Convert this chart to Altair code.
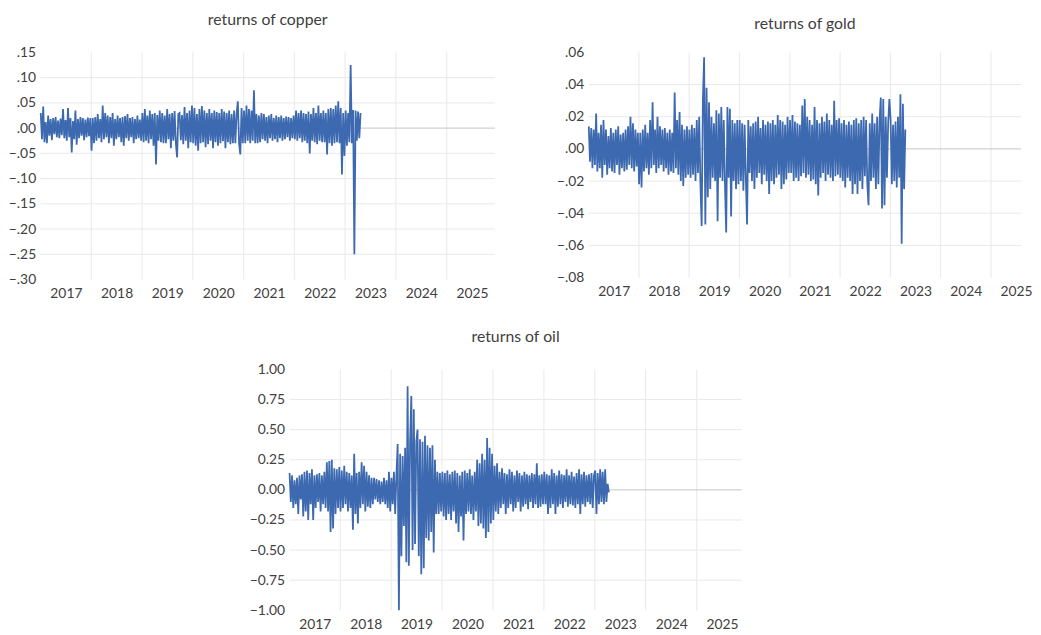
import altair as alt
import pandas as pd

# ---------------- data ----------------
copper_returns = [
    .030, -.022, .043, -.028, .012, -.030, .025, -.015, .018, -.024,
    .020, -.012, .022, -.018, .015, -.020, .019, -.014, .038, -.020,
    .016, -.025, .040, -.018, .020, -.048, .014, -.022, .035, -.033,
    .018, -.020, .022, -.015, .020, -.024, .017, -.018, .021, -.016, .020,
    -.045, .020, -.030, .022, -.025, .028, -.020, .018, -.028, .045,
    -.022, .030, -.018, .025, -.030, .022, -.020, .030, -.035, .018,
    -.022, .025, -.018, .020, -.028, .022, -.035, .024, -.020, .028,
    -.025, .020, -.018, .022, -.030, .018, -.022, .025, -.020, .017, -.025,
    .030, -.028, .038, -.025, .025, -.030, .035, -.022, .028, -.035,
    .030, -.072, .026, -.025, .035, -.028, .030, -.030, .025, -.030,
    .038, -.022, .028, -.040, .030, -.025, .034, -.030, -.058, .028,
    .030, -.024, .026, -.032, .042, -.025, .030, -.040, .035, -.028, .045,
    -.030, .040, -.035, .028, -.045, .038, -.030, .044, -.028, .035,
    -.038, .030, -.032, .038, -.025, .030, -.040, .035, -.028, .032,
    -.035, .030, -.030, .038, -.026, .033, -.040, .030, -.028, .035,
    -.032, .028, -.030, .035, -.030, .028, .053, -.030, -.052, .040, -.030,
    .035, -.030, .045, -.025, .038, -.030, .035, -.025, .075, -.030,
    .028, -.030, .025, -.028, .030, -.022, .028, -.025, .022, -.030,
    .025, -.020, .028, -.025, .020, -.022, .025, -.028, .022, -.020,
    .025, -.025, .020, -.022, .023, -.018, .022, -.025, .020, -.020, .025,
    -.022, .035, -.025, .030, -.020, .035, -.028, .030, -.025, .028,
    -.030, .033, -.050, .028, -.025, .040, -.028, .030, -.032, .045,
    -.025, .030, -.028, .035, -.028, .030, -.052, .038, -.030, .040,
    -.035, .038, -.030, .045, -.028, .053, -.030, .040, -.092, .030, -.055,
    .035, -.035, .030, -.028, .125, -.030, .036, -.250, .035, -.025,
    .033, -.020, .030,
]

gold_returns = [
    .014, -.008, .013, -.012, .012, -.010, .022, -.014, .010, -.012,
    .015, -.018, .018, -.010, .012, -.016, .008, -.012, .013, -.014,
    .010, -.015, .012, -.010, .014, -.016, .009, -.012, .010, -.014,
    .012, -.013, .014, -.010, .020, -.012, .016, -.014, .012, -.011, .010,
    -.022, .010, -.024, .012, -.014, .015, -.012, .010, -.016, .018,
    -.012, .029, -.010, .012, -.015, .020, -.012, .014, -.010, .012,
    -.014, .013, -.012, .010, -.016, .012, -.014, .010, -.015, .035,
    -.012, .018, -.016, .023, -.020, .015, -.023, .012, -.018, .014, -.016,
    .012, -.018, .015, -.016, .013, -.020, .018, -.015, .020, -.022,
    -.048, .030, .057, -.047, .038, -.030, .029, -.025, .020, -.018,
    .016, -.020, .024, -.045, .022, -.018, .026, -.020, .018, -.022,
    -.052, .026, -.018, .025, -.042, .018, -.020, .016, -.025, .018, -.022,
    .018, -.020, .016, -.026, .015, -.018, -.047, .018, -.015, .014,
    -.020, .016, -.025, .017, -.018, .020, -.015, .013, -.022, .018,
    -.016, .015, -.020, .017, -.028, .016, -.020, .018, -.022, .015,
    -.018, .021, -.016, .018, -.025, .017, -.022, .015, -.019, .020, -.015,
    .018, -.015, .021, -.020, .017, -.018, .016, -.020, .015, -.017,
    .027, -.015, .031, -.018, .020, -.016, .018, -.020, .015, -.019,
    .026, -.022, .018, -.029, .016, -.018, .020, -.015, .017, -.020,
    .022, -.016, .018, -.018, .015, -.020, .030, -.017, .018, -.016, .019,
    -.018, .016, -.020, .018, -.024, .015, -.018, .017, -.020, .015,
    -.028, .018, -.022, .019, -.028, .016, -.020, .018, -.025, .020,
    -.017, .018, -.022, -.035, .016, -.020, .022, -.018, .016, -.025,
    .020, -.022, .018, .032, -.037, .031, -.035, .020, -.018, .016, .031,
    .018, -.022, .015, -.020, .017, -.024, .020, -.018, .034, -.059,
    .028, -.025, .012,
]

oil_returns = [
    .14, -.10, .12, -.15, .08, -.12, .10, -.20, .12, -.08,
    .13, -.22, .15, -.18, .16, -.25, .14, -.12, .17, -.25,
    .12, -.15, .13, -.10, .14, -.18, .12, -.12, .15, -.15,
    .23, -.18, .24, -.35, .25, -.32, .18, -.20, .17, -.15, .19,
    -.18, .16, -.15, .20, -.12, .15, -.18, .14, -.15, .12,
    -.33, .30, -.20, .14, -.28, .15, -.15, .23, -.12, .20,
    -.18, .15, -.14, .12, -.15, .10, -.12, .10, -.08, .09,
    -.10, .08, -.12, .07, -.10, .10, -.12, .08, -.15, .15, -.18,
    .10, -.12, .15, -.20, .12, .38, -1.00, .30, -.55, .28,
    -.30, .35, -.60, .86, -.63, .40, .78, -.50, .67, -.45,
    .40, .50, -.55, .42, -.70, .40, -.65, .45, -.40, .37,
    -.42, .35, -.35, .37, -.52, .25, -.20, .15, -.20, .14, -.18,
    .15, -.22, .14, -.25, .16, -.20, .13, -.25, .15, -.18,
    .16, -.28, .14, -.35, .12, -.22, .15, -.42, .16, -.20,
    .14, -.18, .17, -.20, .12, -.25, .15, -.18, .25, -.30,
    .22, -.28, .30, -.32, .25, -.40, .43, -.35, .35, -.28, .30,
    -.25, .20, -.18, .22, -.20, .15, -.15, .18, -.12, .14,
    -.20, .13, -.15, .17, -.12, .15, -.18, .12, -.15, .16,
    -.10, .14, -.18, .12, -.14, .15, -.12, .13, -.16, .12,
    -.10, .14, -.15, .13, -.12, .22, -.15, .12, -.14, .13, -.12,
    .15, -.12, .13, -.20, .12, -.15, .17, -.12, .14, -.20,
    .12, -.14, .16, -.12, .13, -.15, .12, -.10, .17, -.14,
    .12, -.12, .15, -.13, .11, -.15, .14, -.12, .17, -.20,
    .13, -.12, .15, -.14, .12, -.10, .13, -.12, .14, -.15, .12,
    .16, -.20, .14, -.12, .17, -.10, .15, -.12, .17, -.10,
    .05, -.02,
]

first_day = "2017-01-02"
last_day = {"copper": "2023-04-22", "gold": "2023-04-20", "oil": "2023-04-12"}
years_labelled = list(range(2017, 2026))
year_lines = list(range(2018, 2026))

copper_ticks = [.15, .10, .05, 0.0, -.05, -.10, -.15, -.20, -.25, -.30]
gold_ticks = [.06, .04, .02, 0.0, -.02, -.04, -.06, -.08]
oil_ticks = [1.0, .75, .5, .25, 0.0, -.25, -.5, -.75, -1.0]

# ---------------- styling ----------------
BLUE = "#3C69AF"
GRID = "#E9E9E9"
ZERO = "#C4C4C4"
TEXT = "#404040"
FONT = "Lato"


def series_frame(values, name):
    dates = pd.date_range(first_day, last_day[name], periods=len(values))
    return pd.DataFrame({"date": dates, "value": values})


def panel(values, name, ticks, label_expr, width, height, x_end, y_extent,
          title_offset):
    df = series_frame(values, name)
    xscale = alt.Scale(domain=[alt.DateTime(year=2017, month=1, date=1),
                               x_end])
    yscale = alt.Scale(domain=[min(ticks), max(ticks)], nice=False, zero=False)
    x_axis = alt.Axis(
        values=[alt.DateTime(year=y, month=7, date=2) for y in years_labelled],
        labelExpr="timeFormat(datum.value, '%Y')",
        grid=False, ticks=False, domain=False, title=None,
        labelPadding=7, labelFontSize=14, labelFont=FONT, labelColor=TEXT,
        labelFlush=False, labelOverlap=False, labelAlign="center",
    )
    y_axis = alt.Axis(
        values=ticks, labelExpr=label_expr,
        grid=False, ticks=False, domain=False, title=None,
        labelPadding=5, labelFontSize=14, labelFont=FONT, labelColor=TEXT,
        labelOverlap=False, labelFlush=False,
        minExtent=y_extent, maxExtent=y_extent,
    )
    X = alt.X("date:T", scale=xscale, axis=x_axis)
    Y = alt.Y("value:Q", scale=yscale, axis=y_axis)

    grid_dates = pd.DataFrame(
        {"date": pd.to_datetime([f"{y}-01-01" for y in year_lines])})
    inner = [t for t in ticks if t not in (min(ticks), max(ticks)) and t != 0]
    vgrid = alt.Chart(grid_dates).mark_rule(color=GRID, strokeWidth=1).encode(x=X)
    hgrid = alt.Chart(pd.DataFrame({"value": inner})).mark_rule(
        color=GRID, strokeWidth=1).encode(y=Y)
    zero = alt.Chart(pd.DataFrame({"value": [0.0]})).mark_rule(
        color=ZERO, strokeWidth=1).encode(y=Y)
    line = alt.Chart(df).mark_line(color=BLUE, strokeWidth=1.8,
                                   interpolate="linear").encode(x=X, y=Y)
    return alt.layer(vgrid, hgrid, zero, line).properties(
        width=width, height=height,
        title=alt.TitleParams(f"returns of {name}", fontSize=16, font=FONT,
                              fontWeight="normal", color=TEXT,
                              offset=title_offset, anchor="middle"),
    )


short_fmt = "replace(format(datum.value, '.2f'), '0.', '.')"
long_fmt = "format(datum.value, '.2f')"

copper_chart = panel(copper_returns, "copper", copper_ticks, short_fmt,
                     460, 230, alt.DateTime(year=2025, month=12, date=13),
                     33, 18)
gold_chart = panel(gold_returns, "gold", gold_ticks, short_fmt,
                   438, 228, alt.DateTime(year=2025, month=8, date=8),
                   33, 14)
oil_chart = panel(oil_returns, "oil", oil_ticks, long_fmt,
                  458, 244, alt.DateTime(year=2025, month=11, date=20),
                  40, 18)

# invisible block that pushes the oil panel towards the middle
spacer = alt.Chart(pd.DataFrame({"v": [0]})).mark_point(opacity=0).properties(
    width=211, height=1)

chart = alt.vconcat(
    alt.hconcat(copper_chart, gold_chart, spacing=61),
    alt.hconcat(spacer, oil_chart, spacing=0),
    spacing=29,
).properties(
    padding={"left": 0, "right": 0, "top": 0, "bottom": 0}
).configure_view(stroke=None)

chart.save("out.html", embed_options={"renderer": "svg", "actions": False})
